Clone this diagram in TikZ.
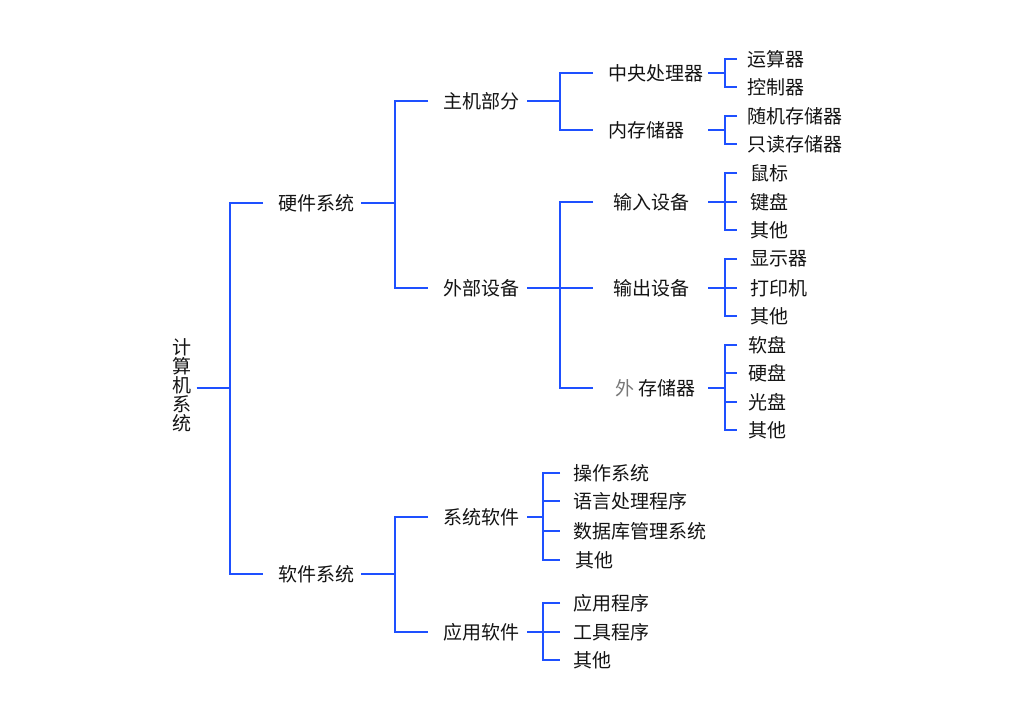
\documentclass[tikz,border=0pt]{standalone}
\usepackage{fontspec}
\setmainfont{Noto Sans CJK SC}
\definecolor{lineblue}{RGB}{30,80,255}
\definecolor{txt}{RGB}{20,20,20}
\definecolor{faint}{RGB}{120,120,120}
\begin{document}
\begin{tikzpicture}[x=1pt,y=-1pt,
  conn/.style={draw=lineblue, line width=1.6pt},
  lbl/.style={anchor=west, inner sep=0pt, text=txt, font=\fontsize{19}{19}\selectfont}]
\useasboundingbox[fill=white] (0,0) rectangle (1036,723);
% nodes
\node[lbl, anchor=center, align=center] (root) at (182,385) {计\\算\\机\\系\\统};
\node[lbl] (hw) at (278,203) {硬件系统};
\node[lbl] (sw) at (278,574) {软件系统};
\node[lbl] (host) at (443,101) {主机部分};
\node[lbl] (ext) at (443,288) {外部设备};
\node[lbl] (sys) at (443,517) {系统软件};
\node[lbl] (app) at (443,632) {应用软件};
\node[lbl] (cpu) at (608,73) {中央处理器};
\node[lbl] (mem) at (608,130) {内存储器};
\node[lbl] (inp) at (613,202) {输入设备};
\node[lbl] (outp) at (613,288) {输出设备};
\node[lbl] (stor) at (615,388) {{\color{faint}外}\hspace{4pt}存储器};
\node[lbl] (alu) at (747,59) {运算器};
\node[lbl] (ctl) at (747,87) {控制器};
\node[lbl] (ram) at (747,116) {随机存储器};
\node[lbl] (rom) at (747,144) {只读存储器};
\node[lbl] (mouse) at (750,173) {鼠标};
\node[lbl] (kbd) at (750,202) {键盘};
\node[lbl] (in3) at (750,230) {其他};
\node[lbl] (disp) at (750,259) {显示器};
\node[lbl] (prn) at (750,288) {打印机};
\node[lbl] (out3) at (750,316) {其他};
\node[lbl] (fd) at (748,345) {软盘};
\node[lbl] (hd) at (748,373) {硬盘};
\node[lbl] (cd) at (748,402) {光盘};
\node[lbl] (st4) at (748,430) {其他};
\node[lbl] (os) at (573,473) {操作系统};
\node[lbl] (lang) at (573,501) {语言处理程序};
\node[lbl] (db) at (573,531) {数据库管理系统};
\node[lbl] (sys4) at (575,560) {其他};
\node[lbl] (apps) at (573,603) {应用程序};
\node[lbl] (tools) at (573,632) {工具程序};
\node[lbl] (app3) at (573,660) {其他};
% junctions
\coordinate (t0) at (230,388);
\coordinate (t1) at (395,203);
\coordinate (t2) at (395,574);
\coordinate (t3) at (560,101);
\coordinate (t4) at (560,288);
\coordinate (k1) at (725,73);
\coordinate (k2) at (725,130);
\coordinate (k3) at (725,202);
\coordinate (k4) at (725,288);
\coordinate (k5) at (725,388);
\coordinate (m1) at (543,517);
\coordinate (m2) at (543,632);
% connectors
\draw[conn] ([xshift=5pt]root.east |- t0) -- (t0);
\draw[conn] ([xshift=-15pt]hw.west) -| (t0) |- ([xshift=-15pt]sw.west);
\draw[conn] ([xshift=7pt]hw.east) -- (t1);
\draw[conn] ([xshift=-15pt]host.west) -| (t1) |- ([xshift=-15pt]ext.west);
\draw[conn] ([xshift=7pt]sw.east) -- (t2);
\draw[conn] ([xshift=-15pt]sys.west) -| (t2) |- ([xshift=-15pt]app.west);
\draw[conn] ([xshift=8pt]host.east) -- (t3);
\draw[conn] ([xshift=-15pt]cpu.west) -| (t3) |- ([xshift=-15pt]mem.west);
\draw[conn] ([xshift=8pt]ext.east) -- ([xshift=-20pt]outp.west);
\draw[conn] ([xshift=-20pt]inp.west) -| (t4) |- ([xshift=-22pt]stor.west);
\draw[conn] ([xshift=5pt]cpu.east) -- (k1);
\draw[conn] ([xshift=-10pt]alu.west) -| (k1) |- ([xshift=-10pt]ctl.west);
\draw[conn] ([xshift=24pt]mem.east) -- (k2);
\draw[conn] ([xshift=-10pt]ram.west) -| (k2) |- ([xshift=-10pt]rom.west);
\draw[conn] ([xshift=19pt]inp.east) -- ([xshift=-13pt]kbd.west);
\draw[conn] ([xshift=-13pt]mouse.west) -| (k3) |- ([xshift=-13pt]in3.west);
\draw[conn] ([xshift=19pt]outp.east) -- ([xshift=-13pt]prn.west);
\draw[conn] ([xshift=-13pt]disp.west) -| (k4) |- ([xshift=-13pt]out3.west);
\draw[conn] ([xshift=13pt]stor.east) -- (k5);
\draw[conn] ([xshift=-11pt]fd.west) -| (k5) |- ([xshift=-11pt]st4.west);
\draw[conn] (k5 |- hd.west) -- ([xshift=-11pt]hd.west);
\draw[conn] (k5 |- cd.west) -- ([xshift=-11pt]cd.west);
\draw[conn] ([xshift=8pt]sys.east) -- (m1);
\draw[conn] ([xshift=-13pt]os.west) -| (m1) |- ([xshift=-15pt]sys4.west);
\draw[conn] (m1 |- lang.west) -- ([xshift=-13pt]lang.west);
\draw[conn] (m1 |- db.west) -- ([xshift=-13pt]db.west);
\draw[conn] ([xshift=8pt]app.east) -- ([xshift=-13pt]tools.west);
\draw[conn] ([xshift=-13pt]apps.west) -| (m2) |- ([xshift=-13pt]app3.west);
\end{tikzpicture}
\end{document}
